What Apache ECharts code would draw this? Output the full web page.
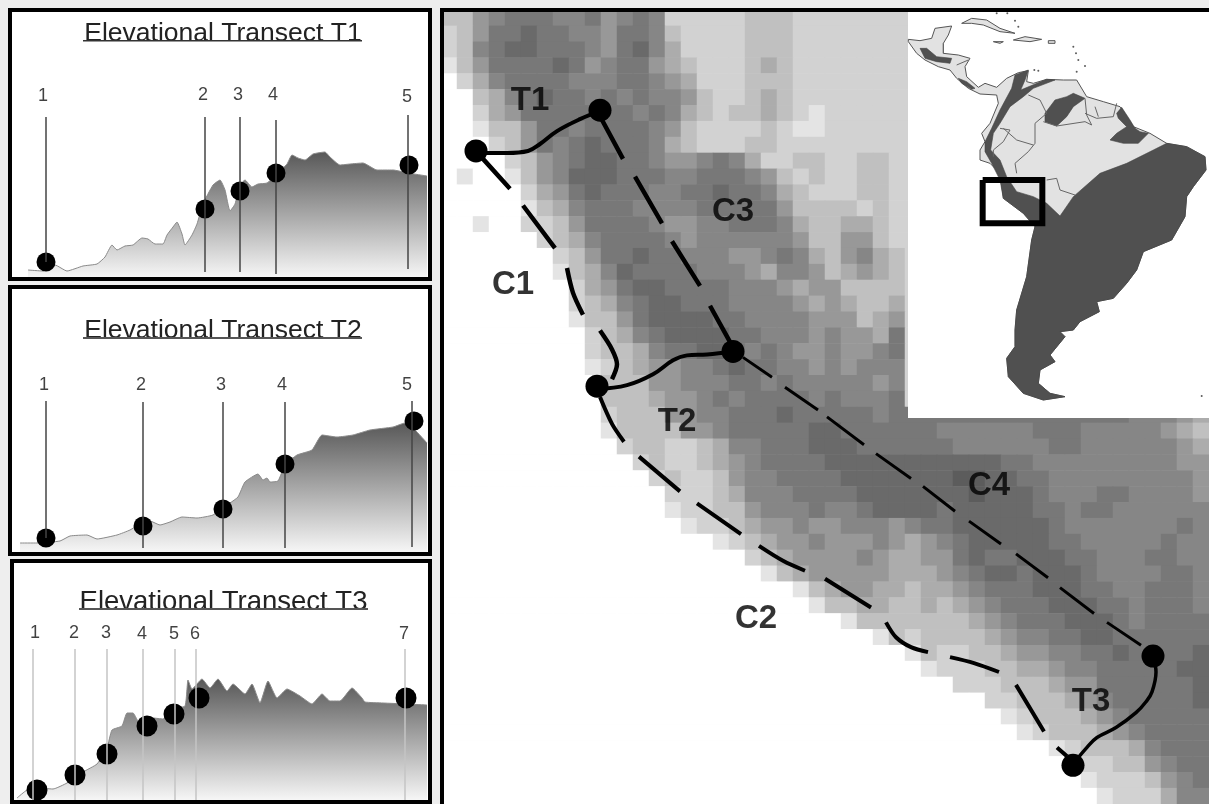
<!DOCTYPE html>
<html>
<head>
<meta charset="utf-8">
<script src="https://cdn.jsdelivr.net/npm/echarts@6/dist/echarts.min.js"></script>
<style>
html,body{margin:0;padding:0;background:#eeeeee;overflow:hidden}
#chart{width:1209px;height:804px;filter:blur(0.6px)}
</style>
</head>
<body>
<div id="chart"></div>
<script>
// transect T1
const t1Dist = [28,43,55,67,83,97,105,112,117,125,133,142,148,155,163,167,173,177,182,185,192,197,203,213,220,225,230,235,240,245,252,258,267,277,287,292,298,305,313,325,330,340,350,363,377,393,408,427]
const t1Elev = [7,6,12,6,11,13,20,32,27,31,32,39,38,33,33,42,50,55,43,32,42,53,73,92,97,87,66,73,92,97,90,93,94,103,113,122,119,117,123,125,120,112,113,114,107,107,104,101]
const t1DotDist = [46,205,240,276,409]
const t1DotElev = [15,68,86,104,112]
const t1LineDist = [46,205,240,276,408]
const t1LineTop = [160,160,160,157,162]
const t1LineBottom = [15,5,5,3,8]
const t1LabelDist = [43,203,238,273,407]
const t1LabelElev = [181,182,182,182,180]
const t1Labels = ['1','2','3','4','5']

// transect T2
const t2Dist = [20,37,60,70,87,97,117,130,140,150,160,170,182,197,213,230,238,245,258,263,267,270,278,285,297,312,322,337,353,370,393,405,415,427]
const t2Elev = [9,9,11,16,17,13,17,22,28,31,27,30,35,34,37,49,55,70,78,72,74,70,71,87,97,102,117,115,117,122,125,129,122,109]
const t2DotDist = [46,143,223,285,414]
const t2DotElev = [14,26,43,88,131]
const t2LineDist = [46,143,223,285,412]
const t2LineTop = [151,150,150,150,151]
const t2LineBottom = [14,4,4,4,5]
const t2LabelDist = [44,141,221,282,407]
const t2LabelElev = [167,167,167,167,167]
const t2Labels = ['1','2','3','4','5']

// transect T3
const t3Dist = [17,27,37,53,67,83,97,107,112,122,127,133,140,153,163,173,185,188,192,202,210,218,227,233,245,252,260,268,277,287,300,312,322,330,340,352,362,365,383,407,427]
const t3Elev = [2,10,12,11,17,28,36,52,70,74,87,87,76,82,81,91,94,120,111,121,112,121,109,116,106,116,97,119,102,111,104,96,106,99,99,112,102,98,97,96,95]
const t3DotDist = [37,75,107,147,174,199,406]
const t3DotElev = [10,25,46,74,86,102,102]
const t3LineDist = [33,75,107,143,175,196,405]
const t3LineTop = [151,151,151,151,151,151,151]
const t3LineBottom = [0,0,0,0,0,0,0]
const t3LabelDist = [35,74,106,142,174,195,404]
const t3LabelElev = [167,167,167,166,166,166,166]
const t3Labels = ['1','2','3','4','5','6','7']

// elevation raster, one digit per cell, 0 = sea
const elevationRows = [
"335677766756 762222233322 222222222222 222222222222",
"235778776657 763222233322 222222222222 222222222222",
"236788777657 864222233322 222222222222 222222222222",
"135777787567 754322234322 222222222222 222222222222",
"024677776667 765422233322 222222222222 222222222222",
"003467877676 766532234322 222222222222 222222222222",
"002457777777 676432334321 222222222222 222222222222",
"001335776777 765322223211 222222222222 222222222222",
"000235767877 764322233222 222222222222 222222222222",
"000023567887 765567642233 223322222222 222222222222",
"010013568887 776677765323 223322222222 222222222222",
"000002457877 766778776432 223322222222 222222222222",
"000001346777 666677777533 332322222222 222222222222",
"001002235777 765566777643 344322222222 222222222222",
"000000234677 776566666653 355322222222 222222222222",
"000000023577 877666556764 356432222222 222222222222",
"000000013468 777766654665 345432222222 222222222222",
"000000002457 887777666545 533332222222 222222222222",
"000000002346 788777666654 543342222222 222222222222",
"000000001335 788887766665 553452222222 222222222222",
"000000000234 678888776665 655472222222 222222222222",
"000000000233 467788767655 655672222222 222222222222",
"000000000123 455667877665 656662222222 222222222222",
"000000000033 355666776766 666562222222 222222222222",
"000000000033 345567677776 766672222222 222222222222",
"000000000023 335566777877 777677777777 777777766654",
"000000000013 333556777778 877777766666 677766666543",
"000000000002 332234667778 887777776666 667766666654",
"000000000000 232234567777 888888888887 766666666655",
"000000000000 023223566777 788888889988 776666666665",
"000000000000 002223466677 778888888988 876667766665",
"000000000000 001223356667 667888878888 877677666666",
"000000000000 000122345565 566656778888 887666666676",
"000000000000 000001234556 555654567888 887766666766",
"000000000000 000000023455 556544557877 888776667766",
"000000000000 000000001345 555544456788 788876666776",
"000000000000 000000000013 455443445677 788877667776",
"000000000000 000000000001 334433434567 778887767776",
"000000000000 000000000000 013333333456 777888767777",
"000000000000 000000000000 000132333345 667788777777",
"000000000000 000000000000 000001322334 556677877778",
"000000000000 000000000000 000000122233 445667777788",
"000000000000 000000000000 000000002223 334557777778",
"000000000000 000000000000 000000000022 333456777778",
"000000000000 000000000000 000000000001 233345677777",
"000000000000 000000000000 000000000000 123334567777",
"000000000000 000000000000 000000000000 001233346777",
"000000000000 000000000000 000000000000 000122335677",
"000000000000 000000000000 000000000000 000012223567",
"000000000000 000000000000 000000000000 000001222466"
]
const grayRamp = ['#ffffff','#e4e4e4','#d2d2d2','#c0c0c0','#acacac','#989898','#868686','#787878','#6a6a6a','#5c5c5c']

// corridors and transect paths on the map, null breaks the dashes
const c1Path = [[483,160],[510,190],null,[523,207],[555,250],null,[567,270],[573,295],[583,317],null,[600,333],[612,352],[617,367],[612,382]]
const c2Path = [[600,400],[612,427],[624,445],null,[639,460],[680,495],null,[697,507],[741,538],null,[759,550],[783,565],[805,575],null,[825,583],[871,612],null,[886,627],[896,642],[911,652],[928,657],null,[950,662],[974,668],[999,677],null,[1016,690],[1044,737],null,[1057,753],[1067,762]]
const c3Path = [[600,117],[623,160],null,[635,178],[662,225],null,[672,243],[700,288],null,[710,308],[733,350]]
const c4Path = [[743,360],[772,380],null,[785,390],[818,413],null,[827,420],[864,448],null,[876,457],[911,482],null,[923,490],[955,515],null,[969,525],[1001,548],null,[1016,558],[1048,582],null,[1060,592],[1094,618],null,[1107,627],[1141,650]]
const t1Path = [[477,152],[485,154],[507,154],[528,152],[540,145],[557,132],[580,120],[600,112]]
const t2Path = [[597,392],[627,388],[653,377],[673,363],[687,358],[707,357],[733,354]]
const t3Path = [[1153,662],[1156,677],[1152,697],[1146,707],[1136,718],[1116,733],[1097,743],[1087,753],[1072,771]]
const mapDots = [[476,152],[600,111],[597,389],[733,354],[1153,661],[1073,771]]
const mapLabels = [[530,102,'T1'],[677,425,'T2'],[1091,707,'T3'],[513,287,'C1'],[756,624,'C2'],[733,213,'C3'],[989,490,'C4']]

// inset map, own units
const insetFrame = [[24,36],[930,36],[930,1254],[24,1254]]
const landOutline = [[25,118],[60,122],[95,115],[105,85],[155,78],[145,105],[130,130],[130,160],[175,165],[210,175],[195,200],[200,230],[235,262],[255,250],[290,262],[320,235],[355,218],[385,212],[380,245],[400,250],[440,238],[490,240],[530,240],[560,290],[610,305],[660,320],[700,380],[750,400],[800,430],[860,440],[915,470],[918,510],[880,560],[860,590],[855,650],[815,720],[730,755],[710,810],[680,850],[640,895],[590,905],[598,935],[540,965],[520,990],[480,995],[495,1010],[450,1065],[465,1085],[420,1110],[415,1150],[450,1180],[495,1190],[430,1200],[370,1180],[325,1130],[320,1075],[345,1040],[345,990],[350,930],[380,830],[395,720],[405,680],[370,640],[310,595],[300,520],[270,490],[240,480],[240,450],[255,425],[245,400],[270,370],[295,310],[290,285],[240,282],[205,265],[170,235],[150,210],[115,200],[75,180],[50,160],[25,125]]
const darkMain = [[800,430],[860,440],[915,470],[918,510],[880,560],[860,590],[855,650],[815,720],[730,755],[710,810],[680,850],[640,895],[590,905],[598,935],[540,965],[520,990],[480,995],[495,1010],[450,1065],[465,1085],[420,1110],[415,1150],[450,1180],[495,1190],[430,1200],[370,1180],[325,1130],[320,1075],[345,1040],[345,990],[350,930],[380,830],[395,720],[405,680],[370,640],[310,595],[300,540],[275,490],[255,455],[255,425],[275,385],[300,330],[335,265],[345,225],[385,210],[375,240],[362,270],[440,238],[465,240],[400,265],[370,290],[330,320],[300,370],[280,400],[272,450],[300,480],[320,530],[350,575],[400,590],[440,610],[480,648],[520,590],[600,520],[680,490],[760,450]]
const darkGuiana = [[435,340],[465,300],[500,290],[520,280],[555,295],[520,320],[500,350],[470,378],[435,365]]
const darkAmapa = [[650,340],[665,322],[690,360],[705,385],[720,395],[745,400],[715,430],[670,430],[630,420],[650,400],[680,380],[655,355]]
const darkGuatemala = [[60,145],[80,145],[110,170],[155,175],[150,190],[110,185],[75,175]]
const darkPanama = [[175,235],[200,245],[225,265],[215,268],[185,250]]
const cuba = [[185,70],[215,55],[260,60],[300,85],[345,100],[300,95],[250,75],[215,70]]
const hispaniola = [[340,120],[375,110],[425,118],[390,125]]
const jamaica = [[280,125],[310,125],[300,130]]
const puertoRico = [[445,122],[465,122],[465,130],[445,130]]
const borders = [
  [[385,285],[420,300],[440,340],[405,370],[405,430],[385,455],[345,490],[350,520]],
  [[300,385],[330,390],[310,425],[280,450],[280,470]],
  [[310,385],[350,420],[400,435]],
  [[430,365],[470,378],[555,365],[575,375],[560,345],[555,295]],
  [[555,340],[590,355],[640,350],[650,310]],
  [[585,320],[595,350]],
  [[440,540],[470,535],[480,570],[525,585]],
  [[130,130],[130,160]],
  [[170,195],[205,180]]
]
const islandDots = [[290,40],[322,40],[345,62],[355,80],[520,140],[528,160],[535,180],[530,215],[555,198],[403,210],[415,212],[905,1188]]
const studyBox = [[248,540],[427,540],[427,670],[248,670],[248,540]]

const titles = ['Elevational Transect T1','Elevational Transect T2','Elevational Transect T3']

function zip(a,b){ return a.map((v,i)=>[v,b[i]]) }

function polyRender(list,style,closed){
  return {
    type:'custom',xAxisIndex:5,yAxisIndex:5,z:5,silent:true,clip:true,
    data:list.map((p,i)=>[i]),
    renderItem:function(params,api){
      const pts = list[params.dataIndex].map(p=>api.coord(p))
      return {type:closed?'polygon':'polyline',shape:{points:pts},style:style}
    }
  }
}

function transectSeries(g,dist,elev,dotDist,dotElev,lineDist,lineTop,lineBottom,labelDist,labelElev,labels,lineColor){
  return [
    {type:'line',xAxisIndex:g,yAxisIndex:g,z:2,data:zip(dist,elev),showSymbol:false,smooth:0.15,silent:true,
      lineStyle:{color:'#8a8a8a',width:1},
      areaStyle:{opacity:1,color:new echarts.graphic.LinearGradient(0,0,0,1,[{offset:0,color:'#585858'},{offset:1,color:'#f6f6f6'}])},
      markLine:{silent:true,symbol:'none',animation:false,label:{show:false},lineStyle:{color:lineColor,width:1.5,type:'solid'},
        data:lineDist.map((x,i)=>[{coord:[x,lineBottom[i]]},{coord:[x,lineTop[i]]}])}
    },
    {type:'scatter',xAxisIndex:g,yAxisIndex:g,z:4,data:zip(dotDist,dotElev),symbolSize:g==2?21:19,itemStyle:{color:'#000',opacity:1},silent:true},
    {type:'scatter',xAxisIndex:g,yAxisIndex:g,z:4,data:labelDist.map((x,i)=>[x,labelElev[i],labels[i]]),symbolSize:1,silent:true,
      itemStyle:{color:'transparent'},
      label:{show:true,position:'inside',formatter:p=>p.value[2],color:'#111',fontSize:18,fontFamily:'Liberation Sans'}}
  ]
}

function dashSeries(path,width){
  return {type:'line',xAxisIndex:4,yAxisIndex:4,z:7,data:path.map(p=>p===null?[null,null]:p),connectNulls:false,showSymbol:false,smooth:0.3,silent:true,
    lineStyle:{color:'#000',width:width,cap:'butt'}}
}
function solidSeries(path,width){
  return {type:'line',xAxisIndex:4,yAxisIndex:4,z:7,data:path,showSymbol:false,smooth:0.4,silent:true,lineStyle:{color:'#000',width:width}}
}

const heatData = []
elevationRows.forEach((row,r)=>{
  row.replace(/ /g,'').split('').forEach((d,c)=>heatData.push([c,r,+d]))
})

const panelGrid = {show:true,backgroundColor:'#fff',borderColor:'#000',borderWidth:4}
const hidden = {show:false}
const option = {
  animation:false,
  backgroundColor:'#eeeeee',
  title:[
    {text:titles[0],left:218,top:29,textAlign:'center',textVerticalAlign:'middle',textStyle:{fontSize:26.5,fontWeight:'normal',color:'#222',fontFamily:'Liberation Sans'}},
    {text:titles[1],left:218,top:326,textAlign:'center',textVerticalAlign:'middle',textStyle:{fontSize:26.5,fontWeight:'normal',color:'#222',fontFamily:'Liberation Sans'}},
    {text:titles[2],left:218.5,top:597,textAlign:'center',textVerticalAlign:'middle',textStyle:{fontSize:27.5,fontWeight:'normal',color:'#222',fontFamily:'Liberation Sans'}}
  ],
  grid:[
    {...panelGrid,left:10,top:10,width:420,height:269},
    {...panelGrid,left:10,top:287,width:420,height:267},
    {...panelGrid,left:12,top:561,width:418,height:241},
    {left:441,top:10,width:768,height:800},
    {left:441,top:10,width:768,height:800},
    {left:900,top:0,width:309,height:420}
  ],
  xAxis:[
    {gridIndex:0,type:'value',min:10,max:430,...hidden},
    {gridIndex:1,type:'value',min:10,max:430,...hidden},
    {gridIndex:2,type:'value',min:12,max:430,...hidden},
    {gridIndex:3,type:'category',data:elevationRows[0].replace(/ /g,'').split('').map((d,i)=>i),...hidden},
    {gridIndex:4,type:'value',min:441,max:1209,...hidden},
    {gridIndex:5,type:'value',min:0,max:927,...hidden}
  ],
  yAxis:[
    {gridIndex:0,type:'value',min:-2,max:267,...hidden},
    {gridIndex:1,type:'value',min:-2,max:265,...hidden},
    {gridIndex:2,type:'value',min:-2,max:239,...hidden},
    {gridIndex:3,type:'category',inverse:true,data:elevationRows.map((d,i)=>i),...hidden},
    {gridIndex:4,type:'value',inverse:true,min:10,max:810,...hidden},
    {gridIndex:5,type:'value',inverse:true,min:0,max:1260,...hidden}
  ],
  visualMap:{show:false,type:'continuous',seriesIndex:0,min:0,max:9,inRange:{color:grayRamp}},
  graphic:[
    {type:'rect',z:100,silent:true,shape:{x:83,y:40,width:279,height:1.5},style:{fill:'#333'}},
    {type:'rect',z:100,silent:true,shape:{x:83,y:337,width:279,height:2},style:{fill:'#555'}},
    {type:'rect',z:100,silent:true,shape:{x:79,y:608,width:289,height:2},style:{fill:'#555'}},
    {type:'rect',z:100,silent:true,shape:{x:442,y:10,width:780,height:810},style:{fill:'none',stroke:'#000',lineWidth:4}}
  ],
  series:[
    {type:'heatmap',xAxisIndex:3,yAxisIndex:3,z:1,data:heatData,silent:true,progressive:0},
    ...transectSeries(0,t1Dist,t1Elev,t1DotDist,t1DotElev,t1LineDist,t1LineTop,t1LineBottom,t1LabelDist,t1LabelElev,t1Labels,'#444'),
    ...transectSeries(1,t2Dist,t2Elev,t2DotDist,t2DotElev,t2LineDist,t2LineTop,t2LineBottom,t2LabelDist,t2LabelElev,t2Labels,'#444'),
    ...transectSeries(2,t3Dist,t3Elev,t3DotDist,t3DotElev,t3LineDist,t3LineTop,t3LineBottom,t3LabelDist,t3LabelElev,t3Labels,'#c4c4c4'),
    polyRender([insetFrame],{fill:'#fff'},true),
    polyRender([landOutline,cuba,hispaniola,jamaica,puertoRico],{fill:'#e2e2e2',stroke:'#555',lineWidth:1},true),
    polyRender([darkMain,darkGuiana,darkAmapa,darkGuatemala,darkPanama],{fill:'#505050',stroke:'#444',lineWidth:0.6},true),
    polyRender(borders,{fill:'none',stroke:'#666',lineWidth:1},false),
    {type:'scatter',xAxisIndex:5,yAxisIndex:5,z:5,data:islandDots,symbolSize:2,itemStyle:{color:'#333'},silent:true},
    polyRender([studyBox],{fill:'none',stroke:'#000',lineWidth:6},false),
    dashSeries(c1Path,4.5),
    dashSeries(c2Path,4),
    dashSeries(c3Path,4.5),
    dashSeries(c4Path,3),
    solidSeries(t1Path,4),
    solidSeries(t2Path,4),
    solidSeries(t3Path,3.5),
    {type:'scatter',xAxisIndex:4,yAxisIndex:4,z:8,data:mapDots,symbolSize:23,itemStyle:{color:'#000',opacity:1},silent:true},
    {type:'scatter',xAxisIndex:4,yAxisIndex:4,z:8,data:mapLabels,symbolSize:1,silent:true,itemStyle:{color:'transparent'},
      label:{show:true,position:'inside',formatter:p=>p.value[2],color:'#000',fontSize:33,fontWeight:'bold',fontFamily:'Liberation Sans'}}
  ]
}

const chart = echarts.init(document.getElementById('chart'))
chart.setOption(option)
</script>
</body>
</html>
